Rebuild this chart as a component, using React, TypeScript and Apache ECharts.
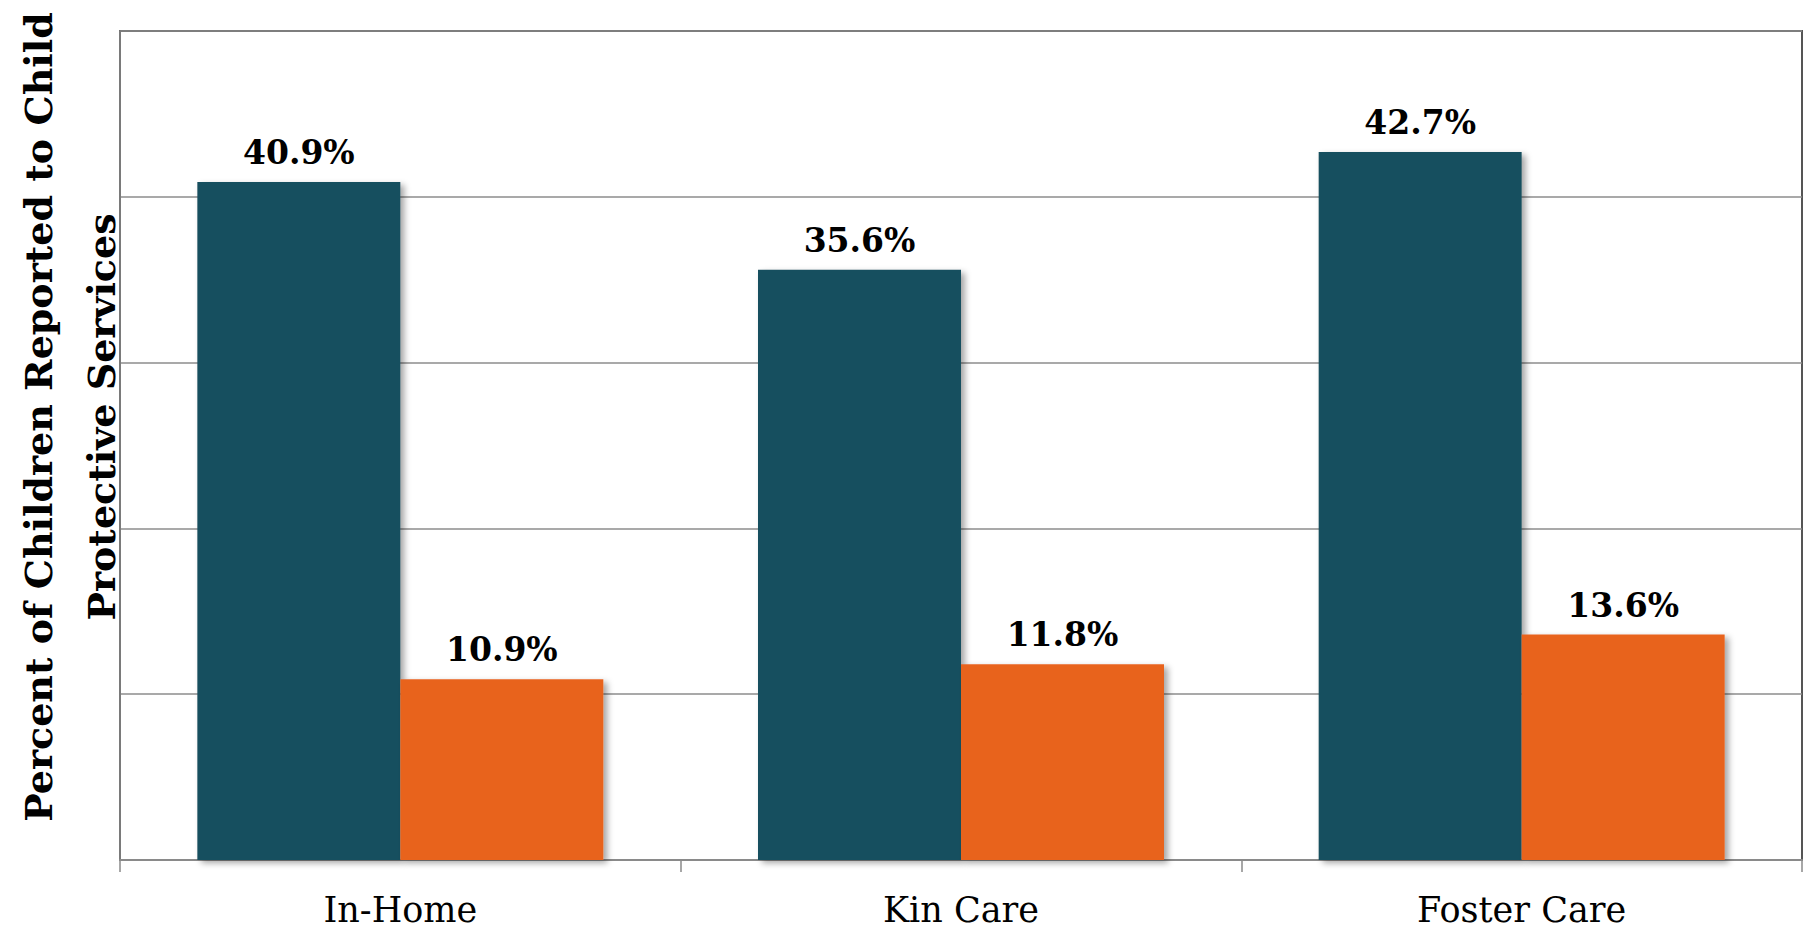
import React, { useEffect, useRef } from "react";
import * as echarts from "echarts";

const categories = ["In-Home", "Kin Care", "Foster Care"];
const seriesA = [40.9, 35.6, 42.7];
const seriesB = [10.9, 11.8, 13.6];
const yTitleLines = ["Percent of Children Reported to Child", "Protective Services"];

const SERIF = "'DejaVu Serif', 'Liberation Serif', serif";

export default function App() {
  const ref = useRef<HTMLDivElement>(null);

  useEffect(() => {
    if (!ref.current) return;
    const chart = echarts.init(ref.current, null, { renderer: "svg" });

    const barStyle = (color: string) => ({
      color,
      shadowColor: "rgba(0,0,0,0.35)",
      shadowBlur: 6,
      shadowOffsetX: 4,
      shadowOffsetY: 3,
    });

    const label = {
      show: true,
      position: "top" as const,
      distance: 13,
      fontFamily: SERIF,
      fontWeight: "bold" as const,
      fontSize: 33,
      color: "#000",
      formatter: (p: any) => `${Number(p.value).toFixed(1)}%`,
    };

    chart.setOption({
      animation: false,
      backgroundColor: "#fff",
      grid: {
        left: 120,
        right: 5,
        top: 31,
        bottom: 71,
        show: true,
        borderColor: "#555",
        borderWidth: 2,
        backgroundColor: "transparent",
      },
      xAxis: {
        type: "category",
        data: categories,
        axisLine: { show: true, lineStyle: { color: "#8a8a8a", width: 2 } },
        axisTick: { show: true, alignWithLabel: false, length: 12, lineStyle: { color: "#8a8a8a", width: 1.5 } },
        axisLabel: {
          fontFamily: SERIF,
          fontSize: 35,
          lineHeight: 38,
          color: "#000",
          margin: 31,
        },
      },
      yAxis: {
        type: "value",
        min: 0,
        max: 50,
        interval: 10,
        axisLabel: { show: false },
        axisTick: { show: false },
        axisLine: { show: true, lineStyle: { color: "#7a7a7a", width: 2 } },
        splitLine: { show: true, lineStyle: { color: "#8c8c8c", width: 1.5 } },
      },
      series: [
        {
          type: "bar",
          data: seriesA,
          barWidth: 203,
          barGap: "0%",
          itemStyle: barStyle("#19505E"),
          label,
        },
        {
          type: "bar",
          data: seriesB,
          barWidth: 203,
          barGap: "0%",
          itemStyle: barStyle("#E8641F"),
          label,
        },
      ],
      graphic: [
        {
          type: "text",
          x: 70,
          y: 417,
          rotation: Math.PI / 2,
          style: {
            text: yTitleLines.join("\n"),
            fontFamily: SERIF,
            fontWeight: "bold",
            fontSize: 38,
            lineHeight: 63,
            fill: "#000",
            align: "center",
            verticalAlign: "middle",
          },
        },
      ],
    });

    return () => chart.dispose();
  }, []);

  return (
    <div
      ref={ref}
      style={{ position: "fixed", left: 0, top: 0, width: 1807, height: 931, background: "#fff" }}
    />
  );
}
